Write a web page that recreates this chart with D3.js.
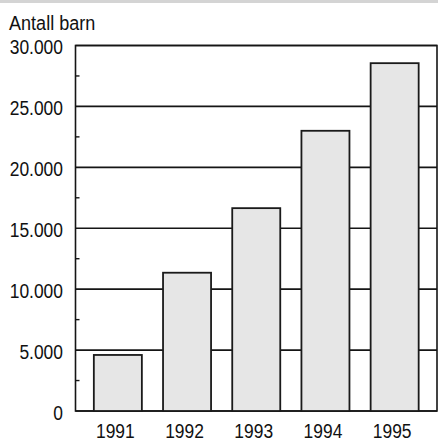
<!DOCTYPE html>
<html><head><meta charset="utf-8">
<script src="https://cdn.jsdelivr.net/npm/d3@7"></script>
<style>
body{margin:0;background:#fff;}
text{font-family:"Liberation Sans",Arial,sans-serif;fill:#111;}
</style></head>
<body><svg id="c" width="438" height="444"></svg>
<script>
const years = ["1991","1992","1993","1994","1995"];
const children = [4600, 11350, 16650, 23000, 28550];
const majorTicks = [0, 5000, 10000, 15000, 20000, 25000, 30000];
const minorTicks = [2500, 7500, 12500, 17500, 22500, 27500];
const yTitle = "Antall barn";

const svg = d3.select("#c");
const L = 75.5, R = 437, T = 45.5, B = 411;
const SX = 0.83;
const y = d3.scaleLinear().domain([0, 30000]).range([B, T]);
const x = d3.scaleBand().domain(years).range([L, R]).paddingInner(0.306).paddingOuter(0.265);
const fmt = v => d3.format(",")(v).replace(/,/g, ".");

// scan stripe at top
svg.append("rect").attr("x",0).attr("y",0).attr("width",438).attr("height",3).attr("fill","#d4d4d4");

// gridlines
svg.append("g").selectAll("line").data(majorTicks).join("line")
  .attr("x1", L).attr("x2", R).attr("y1", d => y(d)).attr("y2", d => y(d))
  .attr("stroke", "#151515").attr("stroke-width", 1.6);

// frame
svg.append("rect").attr("x", L).attr("y", T).attr("width", R - L).attr("height", B - T)
  .attr("fill", "none").attr("stroke", "#151515").attr("stroke-width", 1.6);

// minor ticks
svg.append("g").selectAll("line").data(minorTicks).join("line")
  .attr("x1", L).attr("x2", L + 4).attr("y1", d => y(d)).attr("y2", d => y(d))
  .attr("stroke", "#151515").attr("stroke-width", 1.4);

// bars
svg.append("g").selectAll("rect").data(years).join("rect")
  .attr("x", d => x(d)).attr("width", x.bandwidth())
  .attr("y", (d, i) => y(children[i])).attr("height", (d, i) => B - y(children[i]))
  .attr("fill", "#e6e6e6").attr("stroke", "#1a1a1a").attr("stroke-width", 1.8);

// y labels
svg.append("g").selectAll("text").data(majorTicks).join("text")
  .attr("transform", d => `translate(63,${y(d) + 8.5}) scale(${SX},1)`)
  .attr("text-anchor", "end").attr("font-size", 21)
  .text(d => fmt(d));

// x labels
svg.append("g").selectAll("text").data(years).join("text")
  .attr("transform", d => `translate(${x(d) + x.bandwidth() / 2 - 2.5},437.5) scale(${SX},1)`)
  .attr("text-anchor", "middle").attr("font-size", 21)
  .text(d => d);

// title
svg.append("text").attr("transform", `translate(9,29.5) scale(0.86,1)`)
  .attr("font-size", 21).text(yTitle);
</script></body></html>
